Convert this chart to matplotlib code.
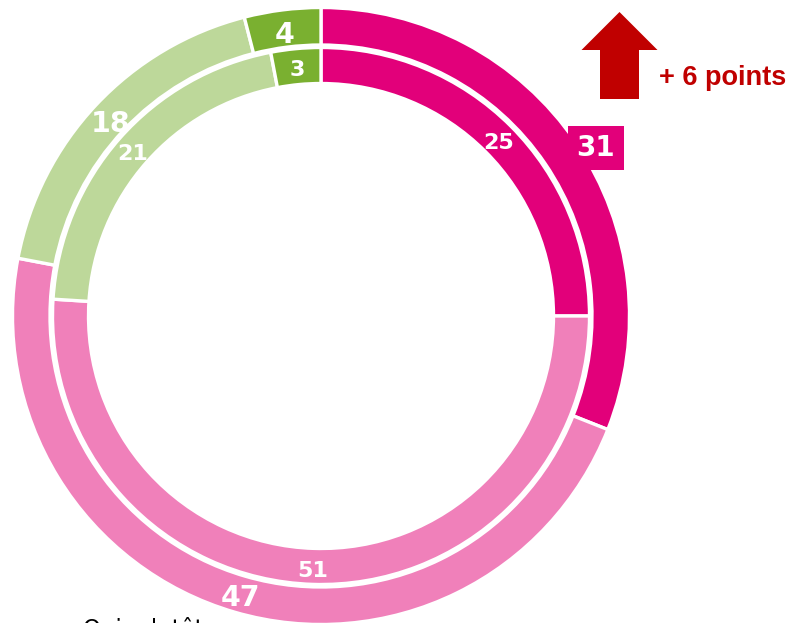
import numpy as np
import matplotlib
matplotlib.use("Agg")
import matplotlib.pyplot as plt
import matplotlib.patches as mpatches

# values (clockwise from the top)
outer_vals = [31, 47, 18, 4]
inner_vals = [25, 51, 21, 3]
colors = ["#E2007A", "#F080BA", "#BDD89A", "#7AB030"]
change_text = "+ 6 points"
bottom_text = "Oui, plutôt"

W, H = 793, 623
fig = plt.figure(figsize=(W / 100, H / 100), dpi=100)
ax = fig.add_axes([0, 0, 1, 1])

cx, cy = 321, H - 316  # centre of the rings, in pixels

ax.pie(outer_vals, colors=colors, startangle=90, counterclock=False,
       radius=308.5, center=(cx, cy), frame=True,
       wedgeprops=dict(width=37.5, edgecolor="white", linewidth=2.4))
ax.pie(inner_vals, colors=colors, startangle=90, counterclock=False,
       radius=268.5, center=(cx, cy), frame=True,
       wedgeprops=dict(width=36, edgecolor="white", linewidth=2.4))
ax.set_xlim(0, W)
ax.set_ylim(0, H)
ax.set_aspect("equal")
ax.axis("off")


def mid_angles(vals):
    tot = sum(vals)
    cum = np.cumsum([0] + vals)
    mids = (cum[:-1] + cum[1:]) / 2 / tot
    return np.deg2rad(90 - 360 * mids)


# outer labels (first one sits in a box outside the ring)
for i, (v, a) in enumerate(zip(outer_vals, mid_angles(outer_vals))):
    if i == 0:
        ax.text(596, H - 148, str(v), color="white", fontsize=20, fontweight="bold",
                ha="center", va="center",
                bbox=dict(boxstyle="square,pad=0.3", fc=colors[0], ec="none"))
        continue
    ax.text(cx + 288 * np.cos(a), cy + 288 * np.sin(a) - 5, str(v), color="white",
            fontsize=20.5, fontweight="bold", ha="center", va="center")

for v, a in zip(inner_vals, mid_angles(inner_vals)):
    ax.text(cx + 251 * np.cos(a), cy + 251 * np.sin(a) - 4, str(v), color="white",
            fontsize=16, fontweight="bold", ha="center", va="center")

# arrow + change
arrow = mpatches.FancyArrow(619.5, H - 99, 0, 87, width=39, head_width=76,
                            head_length=38, length_includes_head=True,
                            color="#C00000", lw=0)
ax.add_patch(arrow)
ax.text(659, H - 78, change_text, color="#C00000", fontsize=19.5,
        fontweight="bold", family="Liberation Sans", ha="left", va="center")

# legend line that is cut off at the bottom edge in the original
ax.text(83, H - 636, bottom_text, color="black", fontsize=16.5,
        ha="left", va="baseline", clip_on=False)

fig.savefig("out.png", dpi=100)
